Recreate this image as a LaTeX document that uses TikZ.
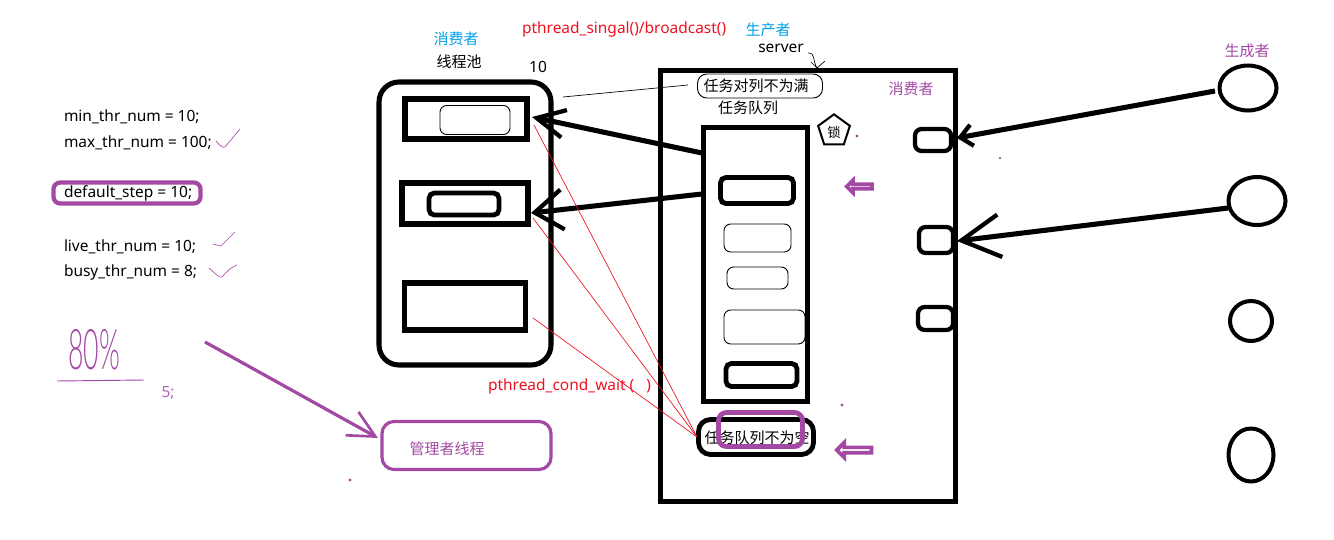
\documentclass[tikz,border=0pt]{standalone}
\usepackage{fontspec}
\setmainfont{Noto Sans}
\newfontfamily\cjk{Noto Sans CJK SC}
\newfontfamily\penfont{Lato Light}
\usetikzlibrary{arrows.meta,shapes.geometric,shapes.arrows}
\definecolor{penpurple}{HTML}{A349A4}
\definecolor{penblue}{HTML}{00A2E8}
\definecolor{penred}{HTML}{F01020}
\tikzset{
   sz/.style 2 args={minimum width=#1*0.75pt, minimum height=#2*0.75pt},
   frame/.style={draw, line width=3.8pt, inner sep=0pt, outer sep=0pt},
   cell/.style={draw, line width=3.2pt, rounded corners=4pt, inner sep=0pt, outer sep=0pt},
   slim/.style={draw, line width=0.7pt, rounded corners=5pt, inner sep=0pt, outer sep=0pt},
   blob/.style={ellipse, draw, line width=3pt, inner sep=0pt, outer sep=0pt},
   word/.style={inner sep=0pt, outer sep=0pt, font=\fontsize{11.6}{14}\selectfont},
   hanzi/.style={word, font=\fontsize{11.25}{14}\selectfont\cjk},
   fat/.style 2 args={line width=3.8pt, -{Straight Barb[length=#1, width=#2, line width=3.2pt]}},
   redline/.style={penred, line width=0.5pt},
   tick/.style={penpurple, line width=0.5pt},
   hollow/.style={single arrow, draw=penpurple, line width=2.8pt, fill=white, inner sep=0pt,
      outer sep=0pt, shape border rotate=180, single arrow head extend=2.5pt,
      single arrow tip angle=90, single arrow head indent=0pt},
}
\begin{document}
\begin{tikzpicture}[x=0.75pt, y=-0.75pt]
   \useasboundingbox (0, 0) rectangle (1334, 539);
   % left column
   \node[word, anchor=west] (minnum) at (64, 116.5) {min\_thr\_num = 10;};
   \node[word, anchor=west] (maxnum) at (64, 142.5) {max\_thr\_num = 100;};
   \node[word, anchor=west] (stepnum) at (64, 193.5) {default\_step = 10;};
   \node[word, anchor=west] (livenum) at (64, 246.5) {live\_thr\_num = 10;};
   \node[word, anchor=west] (busynum) at (64, 272.5) {busy\_thr\_num = 8;};
   \node[draw=penpurple, line width=3.2pt, rounded corners=5pt, sz={147}{21}, inner sep=0pt] (stepring) at (127, 193) {};
   \draw[tick] (216, 141) .. controls (220, 146) and (223, 148) .. (225, 147) -- (240, 129);
   \draw[tick] (213, 244) -- (221, 246) -- (235, 232);
   \draw[tick] (209, 268) .. controls (216, 274) and (219, 278) .. (222, 277) .. controls (226, 272) and (230, 268) .. (237, 265);
   \node[word, penpurple, font=\fontsize{20}{20}\penfont] (rate) at (94, 350) {\scalebox{1}[2.1]{80\%}};
   \draw[tick, line width=0.7pt] (57, 381) -- (144, 380);
   \node[word, penpurple!85!white] (five) at (168, 393) {5;};
   % consumers
   \node[hanzi, penblue] (consumer) at (456, 39) {消费者};
   \node[hanzi] (poolname) at (459, 62) {线程池};
   \node[word] (ten) at (538, 67) {10};
   \node[cell, line width=3.8pt, rounded corners=15pt, sz={172}{283}] (pool) at (465, 223.5) {};
   \node[frame, sz={122}{40}] (workera) at (466, 119) {};
   \node[slim, sz={70}{29}] (innera) at (475, 120) {};
   \node[frame, sz={126}{41}] (workerb) at (465, 203.5) {};
   \node[cell, line width=3.6pt, sz={70}{22}] (innerb) at (464, 204) {};
   \node[frame, sz={121}{47}] (workerc) at (465, 306.5) {};
   % server box
   \node[hanzi, penblue] (producer) at (768, 30) {生产者};
   \node[word] (servername) at (781, 48) {server};
   \node[word, penred, anchor=west] (signal) at (522, 29.5) {pthread\_singal()/broadcast()};
   \node[frame, sz={295}{431}] (server) at (808, 286) {};
   \node[slim, sz={125}{24}, rounded corners=7pt] (fullnote) at (760, 86) {};
   \node[hanzi] (fullword) at (756, 86) {任务对列不为满};
   \node[hanzi] (queuename) at (748, 108) {任务队列};
   \node[regular polygon, regular polygon sides=5, draw, line width=1.5pt, inner sep=0pt, outer sep=0pt, minimum size=25pt] (lock) at (834, 131) {};
   \node[hanzi, font=\fontsize{10}{11}\selectfont\cjk] (lockword) at (834, 132) {锁};
   \node[hanzi, penpurple] (innercons) at (911, 89) {消费者};
   \node[frame, sz={104}{274}] (queue) at (755.5, 264.5) {};
   \node[cell, line width=3.6pt, sz={73}{26}] (itema) at (757, 190.5) {};
   \node[slim, sz={67}{28}] (itemb) at (757.5, 238) {};
   \node[slim, sz={61}{22}] (itemc) at (757.5, 278) {};
   \node[slim, sz={81}{34}] (itemd) at (764.5, 327) {};
   \node[cell, line width=3.6pt, sz={71}{23}] (iteme) at (761.5, 375) {};
   \node[cell, line width=3.6pt, rounded corners=9pt, sz={115}{35}] (emptynote) at (756, 437) {};
   \node[hanzi] (emptyword) at (757, 438) {任务队列不为空};
   \node[cell, line width=3.6pt, draw=penpurple, rounded corners=6pt, sz={84}{34}] (emptyring) at (760.5, 429.5) {};
   \node[hollow, minimum width=9.5pt, minimum height=19pt] (marka) at (860.5, 186.5) {};
   \node[hollow, minimum width=11pt, minimum height=26pt] (markb) at (855.5, 450) {};
   \node[cell, rounded corners=5pt, sz={36}{22}] (slota) at (933, 140) {};
   \node[cell, rounded corners=5pt, sz={34}{26}] (slotb) at (936, 240) {};
   \node[cell, rounded corners=5pt, sz={35}{23}] (slotc) at (935.5, 318.5) {};
   % producers
   \node[hanzi, penpurple] (makers) at (1247, 51) {生成者};
   \node[blob, sz={57}{45}] (proa) at (1248, 88) {};
   \node[blob, sz={57}{48}] (prob) at (1257, 201) {};
   \node[blob, sz={42}{40}] (proc) at (1251, 321) {};
   \node[blob, sz={45}{53}] (prod) at (1251, 455) {};
   % manager
   \node[draw=penpurple, line width=2.4pt, rounded corners=9pt, sz={169}{48}, inner sep=0pt, outer sep=0pt] (manager) at (466.5, 445.5) {};
   \node[hanzi, penpurple] (managerword) at (447, 449) {管理者线程};
   \node[word, penred, anchor=west] (waitword) at (488, 386.5) {pthread\_cond\_wait (\hspace{9pt})};
   % connectors
   \coordinate (tipa) at (532, 117);
   \coordinate (tipb) at (531, 213);
   \coordinate (tailone) at (702, 153);
   \coordinate (tailtwo) at (702, 194);
   \coordinate (slotatip) at (957, 138);
   \coordinate (slotbtip) at (957, 241);
   \coordinate (proatail) at (1215, 91);
   \coordinate (probtail) at (1228, 208);
   \draw[fat={21pt}{21pt}] (tailone) -- (tipa);
   \draw[fat={21pt}{30pt}] (tailtwo) -- (tipb);
   \draw[fat={9pt}{16pt}] (proatail) -- (slotatip);
   \draw[fat={29pt}{32pt}] (probtail) -- (slotbtip);
   \coordinate (arrowstart) at (205, 342);
   \coordinate (managertip) at (378, 438);
   \draw[penpurple, line width=2.4pt, -{Straight Barb[length=20pt, width=20pt, line width=2pt]}] (arrowstart) -- (managertip);
   \coordinate (noteend) at (688, 85);
   \coordinate (freeend) at (563, 97);
   \draw[line width=0.5pt] (noteend) -- (freeend);
   \coordinate (wait) at (697, 437);
   \foreach \x/\y in {534/125, 533/218, 533/318} {
      \draw[redline] (wait) -- (\x, \y);
   }
   \coordinate (squiggle) at (808, 53);
   \coordinate (squiggletip) at (817, 68);
   \draw[line width=0.5pt] (squiggle) .. controls (816, 53) and (812, 60) .. (squiggletip) -- (825, 61);
   \draw[line width=0.5pt] (squiggletip) -- (811, 62);
   % stray pen marks
   \foreach \x/\y in {857/136, 842/405, 350/480} {
      \fill[penpurple] (\x, \y) circle (1.2pt);
   }
   \fill (1000, 158) circle (0.6pt);
\end{tikzpicture}
\end{document}
